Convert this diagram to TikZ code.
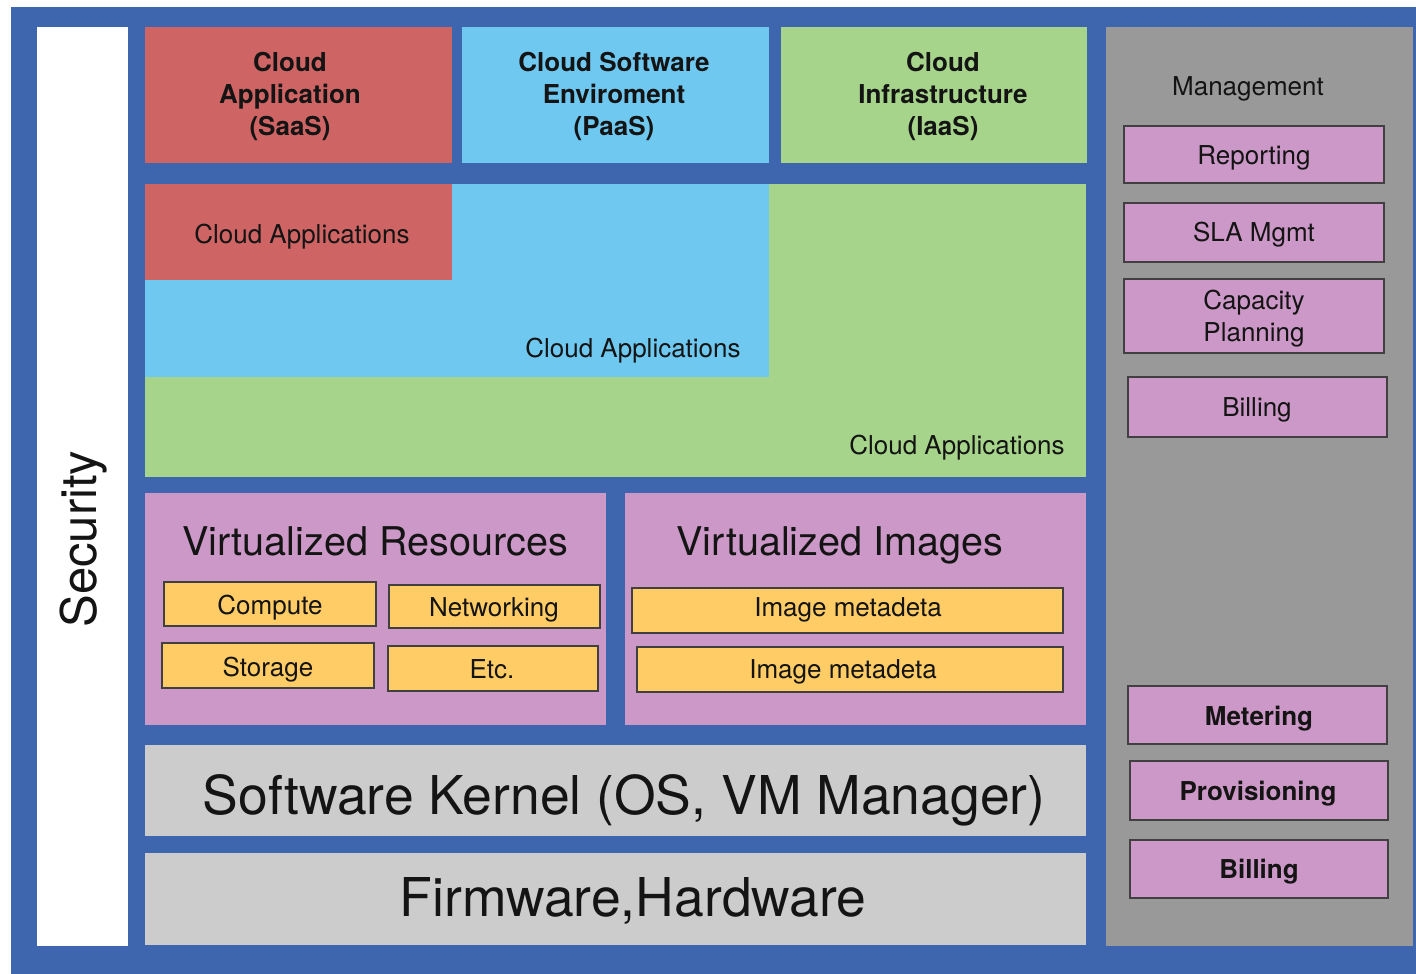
\documentclass[tikz,border=0pt]{standalone}
\usepackage{fontspec}
\setmainfont{TeX Gyre Heros}
\definecolor{frameblue}{HTML}{3D66AF}
\definecolor{saasred}{HTML}{CE6464}
\definecolor{paasblue}{HTML}{6EC8F0}
\definecolor{iaasgreen}{HTML}{A6D48A}
\definecolor{virtpurple}{HTML}{CC98C7}
\definecolor{resyellow}{HTML}{FFCC66}
\definecolor{kernelgray}{HTML}{CCCCCC}
\definecolor{mgmtgray}{HTML}{999999}
\definecolor{txt}{HTML}{141414}
\definecolor{edge}{HTML}{404040}
\begin{document}
\begin{tikzpicture}[x=1pt,y=-1pt,
  blk/.style={anchor=north west, inner sep=0pt, outer sep=0pt, draw=none},
  mbox/.style={blk, fill=virtpurple, draw=edge, line width=1.5pt},
  ybox/.style={blk, fill=resyellow, draw=edge, line width=1.5pt},
  tr/.style={inner sep=0pt, text=txt, font=\fontsize{26}{32}\selectfont, text height=18.7pt, text depth=0pt},
  tb/.style={inner sep=0pt, text=txt, font=\bfseries\fontsize{26}{32}\selectfont, text height=18.7pt, text depth=0pt},
  tml/.style={inner sep=0pt, text=txt, font=\bfseries\fontsize{26}{32}\selectfont, align=center},
  tmr/.style={inner sep=0pt, text=txt, font=\fontsize{26}{32}\selectfont, align=center},
  ttitle/.style={inner sep=0pt, text=txt, font=\fontsize{39.6}{46}\selectfont, text height=28.5pt, text depth=0pt},
  tbig/.style={inner sep=0pt, text=txt, font=\fontsize{53.5}{60}\selectfont, text height=38.5pt, text depth=0pt}]
\useasboundingbox (0,0) rectangle (1416,974);
\fill[white] (0,0) rectangle (1416,974);
\node[blk, fill=frameblue, minimum width=1405pt, minimum height=967pt] (frame) at (11,7) {};
% security column
\node[blk, fill=white, minimum width=91pt, minimum height=919pt] (security) at (37,27) {};
\node[inner sep=0pt, text=txt, font=\fontsize{49}{56}\selectfont, text height=35.3pt, text depth=0pt, rotate=90] (securitytxt) at (79,539) {Security};
% top service boxes
\node[blk, fill=saasred, minimum width=307pt, minimum height=136pt] (saas) at (145,27) {};
\node[blk, fill=paasblue, minimum width=307pt, minimum height=136pt] (paas) at (462,27) {};
\node[blk, fill=iaasgreen, minimum width=306pt, minimum height=136pt] (iaas) at (781,27) {};
\node[tml] (saastxt) at (290,96.5) {Cloud\\Application\\(SaaS)};
\node[tml] (paastxt) at (614,96.5) {Cloud Software\\Enviroment\\(PaaS)};
\node[tml] (iaastxt) at (943,96.5) {Cloud\\Infrastructure\\(IaaS)};
% nested cloud applications
\node[blk, fill=iaasgreen, minimum width=941pt, minimum height=293pt] (appgreen) at (145,184) {};
\node[blk, fill=paasblue, minimum width=624pt, minimum height=193pt] (appblue) at (145,184) {};
\node[blk, fill=saasred, minimum width=307pt, minimum height=96pt] (appred) at (145,184) {};
\node[tr] (appredtxt) at (302,234) {Cloud Applications};
\node[tr] (appbluetxt) at (633,348) {Cloud Applications};
\node[tr] (appgreentxt) at (957,445) {Cloud Applications};
% virtualized resources
\node[blk, fill=virtpurple, minimum width=461pt, minimum height=232pt] (vres) at (145,493) {};
\node[ttitle] (vrestxt) at (375,541) {Virtualized Resources};
\node[ybox, minimum width=212pt, minimum height=44pt] (compute) at (164,582) {};
\node[tr] (computetxt) at (270,605) {Compute};
\node[ybox, minimum width=211pt, minimum height=43pt] (networking) at (389,585) {};
\node[tr] (networkingtxt) at (494,607) {Networking};
\node[ybox, minimum width=212pt, minimum height=45pt] (storage) at (162,643) {};
\node[tr] (storagetxt) at (268,667) {Storage};
\node[ybox, minimum width=210pt, minimum height=45pt] (etc) at (388,646) {};
\node[tr] (etctxt) at (492,669) {Etc.};
% virtualized images
\node[blk, fill=virtpurple, minimum width=461pt, minimum height=232pt] (vimg) at (625,493) {};
\node[ttitle] (vimgtxt) at (840,541) {Virtualized Images};
\node[ybox, minimum width=431pt, minimum height=45pt] (imgmeta1) at (632,588) {};
\node[tr] (imgmeta1txt) at (848,607) {Image metadeta};
\node[ybox, minimum width=426pt, minimum height=45pt] (imgmeta2) at (637,647) {};
\node[tr] (imgmeta2txt) at (843,669) {Image metadeta};
% kernel and firmware
\node[blk, fill=kernelgray, minimum width=941pt, minimum height=91pt] (kernel) at (145,745) {};
\node[tbig] (kerneltxt) at (624,795) {Software Kernel (OS, VM Manager)};
\node[blk, fill=kernelgray, minimum width=941pt, minimum height=92pt] (firmware) at (145,853) {};
\node[tbig] (firmwaretxt) at (633,897) {Firmware,Hardware};
% management column
\node[blk, fill=mgmtgray, minimum width=307pt, minimum height=919pt] (mgmt) at (1106,27) {};
\node[tr] (mgmttxt) at (1248,86) {Management};
\node[mbox, minimum width=260pt, minimum height=57pt] (reporting) at (1124,126) {};
\node[tr] (reportingtxt) at (1254,155) {Reporting};
\node[mbox, minimum width=260pt, minimum height=59pt] (sla) at (1124,203) {};
\node[tr] (slatxt) at (1254,232) {SLA Mgmt};
\node[mbox, minimum width=260pt, minimum height=74pt] (capacity) at (1124,279) {};
\node[tmr] (capacitytxt) at (1254,318.5) {Capacity\\Planning};
\node[mbox, minimum width=259pt, minimum height=60pt] (billing1) at (1128,377) {};
\node[tr] (billing1txt) at (1257,407) {Billing};
\node[mbox, minimum width=259pt, minimum height=58pt] (metering) at (1128,686) {};
\node[tb] (meteringtxt) at (1259,716) {Metering};
\node[mbox, minimum width=258pt, minimum height=59pt] (provisioning) at (1130,761) {};
\node[tb] (provisioningtxt) at (1258,791) {Provisioning};
\node[mbox, minimum width=258pt, minimum height=58pt] (billing2) at (1130,840) {};
\node[tb] (billing2txt) at (1259,869) {Billing};
\end{tikzpicture}
\end{document}
